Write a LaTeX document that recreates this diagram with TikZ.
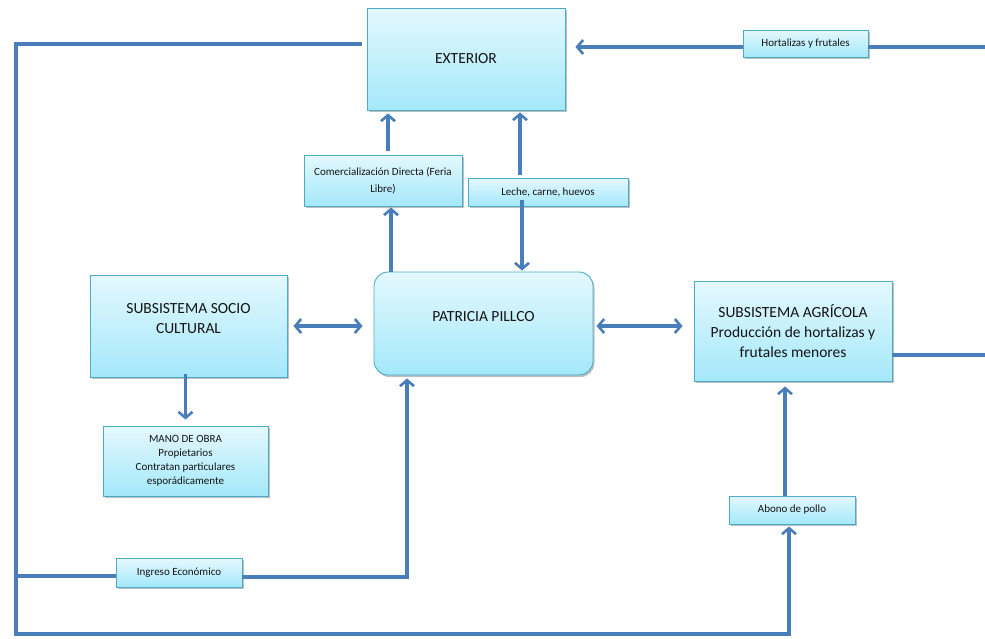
\documentclass[tikz,border=0pt]{standalone}
\usepackage{fontspec}
\setmainfont{Carlito}
\usetikzlibrary{arrows.meta,shadows,calc}
\definecolor{flow}{HTML}{4A7EBB}
\definecolor{boxline}{HTML}{4BACC6}
\definecolor{boxtop}{HTML}{E4F8FD}
\definecolor{boxbot}{HTML}{A4E8FB}
\definecolor{ink}{HTML}{141414}
\begin{document}
\begin{tikzpicture}[x=1pt,y=-1pt,
  box/.style={draw=boxline, line width=0.9pt, top color=boxtop, bottom color=boxbot,
    text=ink, align=center, inner sep=2pt,
    drop shadow={shadow xshift=1.5pt, shadow yshift=-2pt, opacity=0.25, fill=black}},
  lbl/.style={text=ink, align=center, inner sep=0pt},
  big/.style={font=\fontsize{15.5}{20}\selectfont},
  small/.style={font=\fontsize{11}{14}\selectfont},
  conn/.style={draw=flow, line width=3.2pt},
  tip/.tip={Straight Barb[length=6pt,width=14pt,line width=2.6pt]},
  arr/.style={conn, -tip},
  both/.style={conn, tip-tip}]

\useasboundingbox (0,0) rectangle (985,638);

% boxes
\node[box, big, minimum width=198pt, minimum height=102pt] (ext) at (466,59) {EXTERIOR};
\node[box, small, minimum width=125pt, minimum height=27pt] (hort) at (805.5,43.5) {Hortalizas y frutales};
\node[box, font=\fontsize{11}{17}\selectfont, minimum width=158pt, minimum height=51pt] (com) at (383,180.5)
  {Comercialización Directa (Feria\\Libre)};
\node[box, small, minimum width=160pt, minimum height=28pt] (leche) at (548,192) {Leche, carne, huevos};
\node[box, rounded corners=14pt, minimum width=219pt, minimum height=103pt] (pat) at (483.5,323.5) {};
\node[lbl, big] (patlabel) at ($(pat)+(0,-7)$) {PATRICIA PILLCO};
\node[box, minimum width=197pt, minimum height=102pt] (soc) at (188.5,326) {};
\node[lbl, big] (soclabel) at ($(soc)+(0,-7)$) {SUBSISTEMA SOCIO\\CULTURAL};
\node[box, small, minimum width=165pt, minimum height=70pt] (mano) at (185.5,461)
  {MANO DE OBRA\\Propietarios\\Contratan particulares\\esporádicamente};
\node[box, big, minimum width=198pt, minimum height=100pt] (agr) at (793,331)
  {SUBSISTEMA AGRÍCOLA\\Producción de hortalizas y\\frutales menores};
\node[box, small, minimum width=126pt, minimum height=28pt] (abono) at (792,510) {Abono de pollo};
\node[box, small, minimum width=126pt, minimum height=29pt] (ing) at (179,572.5) {Ingreso Económico};

% free ends of the long loops
\coordinate (rtop) at (985,47);
\coordinate (rmid) at (985,355);
\coordinate (lstart) at (362,44);
\coordinate (lcorner) at (16,44);
\coordinate (bcorner) at (16,634);

% right edge into EXTERIOR, through the label
\draw[conn] (rtop) -- (hort.east |- rtop);
\draw[arr, shorten >=10pt] (hort.west |- rtop) -- (ext.east |- rtop);

% outer loop from EXTERIOR down to the bottom and up to Abono de pollo
\draw[arr, shorten >=2pt] (lstart) -- (lcorner) -- (bcorner) -- (bcorner -| 789,0) -- (abono.south -| 789,0);
\draw[arr, shorten >=5pt] ($(abono.north)+(-7,0)$) -- ($(agr.south)+(-8,0)$);

% Ingreso Económico branch
\draw[conn] (lcorner |- 0,576) -- (ing.west |- 0,576);
\draw[arr, shorten >=3pt] (ing.east |- 0,577) -- (407,577) -- (pat.south -| 407,0);

% central links
\draw[arr, shorten >=3pt] ($(com.north)+(5,-4)$) -- ($(ext.south -| com.north)+(5,0)$);
\draw[arr, shorten >=2pt] ($(leche.north)+(-28,-3)$) -- ($(ext.south -| leche.north)+(-28,0)$);
\draw[arr, shorten >=1pt] ($(pat.north -| com.north)+(8,0)$) -- ($(com.south)+(8,0)$);
\draw[arr, shorten >=1pt] ($(leche.south)+(-26,-6)$) -- ($(pat.north -| leche.south)+(-26,0)$);

% side links
\draw[both, shorten <=6pt, shorten >=11pt] (soc.east |- 0,326) -- (pat.west |- 0,326);
\draw[both, shorten <=3pt, shorten >=11pt] (pat.east |- 0,326) -- (agr.west |- 0,326);
\draw[conn] (agr.east |- rmid) -- (rmid);
\draw[arr, shorten >=6pt] ($(soc.south)+(-3,-3)$) -- (mano.north);
\end{tikzpicture}
\end{document}
